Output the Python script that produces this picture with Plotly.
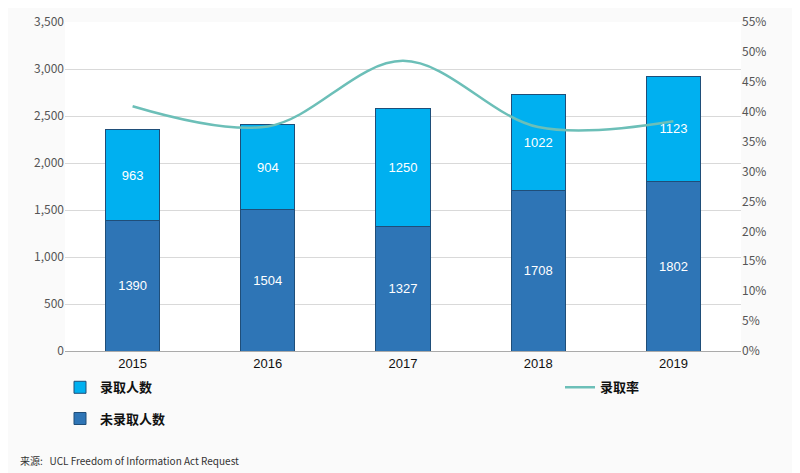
import plotly.graph_objects as go

years = ["2015", "2016", "2017", "2018", "2019"]
rejected = [1390, 1504, 1327, 1708, 1802]
admitted = [963, 904, 1250, 1022, 1123]
rate = [a / (a + r) * 100 for a, r in zip(admitted, rejected)]

fig = go.Figure()
fig.add_trace(go.Bar(x=years, y=rejected, name="<b>未录取人数</b>", marker=dict(color="#2e75b6", line=dict(color="#1f4e79", width=1)),
                     text=rejected, textposition="inside", insidetextanchor="middle",
                     textfont=dict(color="white", size=13, family="Liberation Sans"), width=0.4, legend="legend2"))
fig.add_trace(go.Bar(x=years, y=admitted, name="<b>录取人数</b>", marker=dict(color="#00b0f0", line=dict(color="#1f4e79", width=1)),
                     text=admitted, textposition="inside", insidetextanchor="middle",
                     textfont=dict(color="white", size=13, family="Liberation Sans"), width=0.4, legend="legend4"))
fig.add_trace(go.Scatter(x=years, y=rate, name="<b>录取率</b>", mode="lines", yaxis="y2",
                         line=dict(color="#6cbfb8", width=2.5, shape="spline"), legend="legend3"))

leg = dict(xref="container", yref="container", xanchor="left", yanchor="middle", bgcolor="rgba(0,0,0,0)",
           font=dict(size=13, color="#111"))
fig.update_layout(
    width=800, height=473, barmode="stack", plot_bgcolor="white", paper_bgcolor="#fafafa",
    margin=dict(l=57, r=67, t=14, b=130, autoexpand=False),
    font=dict(family="Noto Sans CJK SC, Liberation Sans", size=13, color="#222"),
    xaxis=dict(showline=True, linecolor="#aaa", tickfont=dict(size=13, color="#111", family="Liberation Sans"), ticks=""),
    yaxis=dict(range=[0, 3500], dtick=500, tickformat=",", showgrid=True, gridcolor="#d9d9d9",
               tickfont=dict(color="#555", size=12)),
    yaxis2=dict(range=[0, 55], dtick=5, ticksuffix="%", overlaying="y", side="right", showgrid=False,
                tickfont=dict(color="#555", size=12)),
    showlegend=True,
    legend4=dict(x=0.065, y=0.198, **leg),
    legend2=dict(x=0.065, y=0.132, **leg),
    legend3=dict(x=0.69, y=0.198, **leg),
    annotations=[dict(text="来源:   UCL Freedom of Information Act Request", x=0.0, y=-0.333, xref="paper", yref="paper",
                      xanchor="left", yanchor="middle", showarrow=False, font=dict(size=10, color="#333"), xshift=-47)],
)
fig.write_html("out.html")
